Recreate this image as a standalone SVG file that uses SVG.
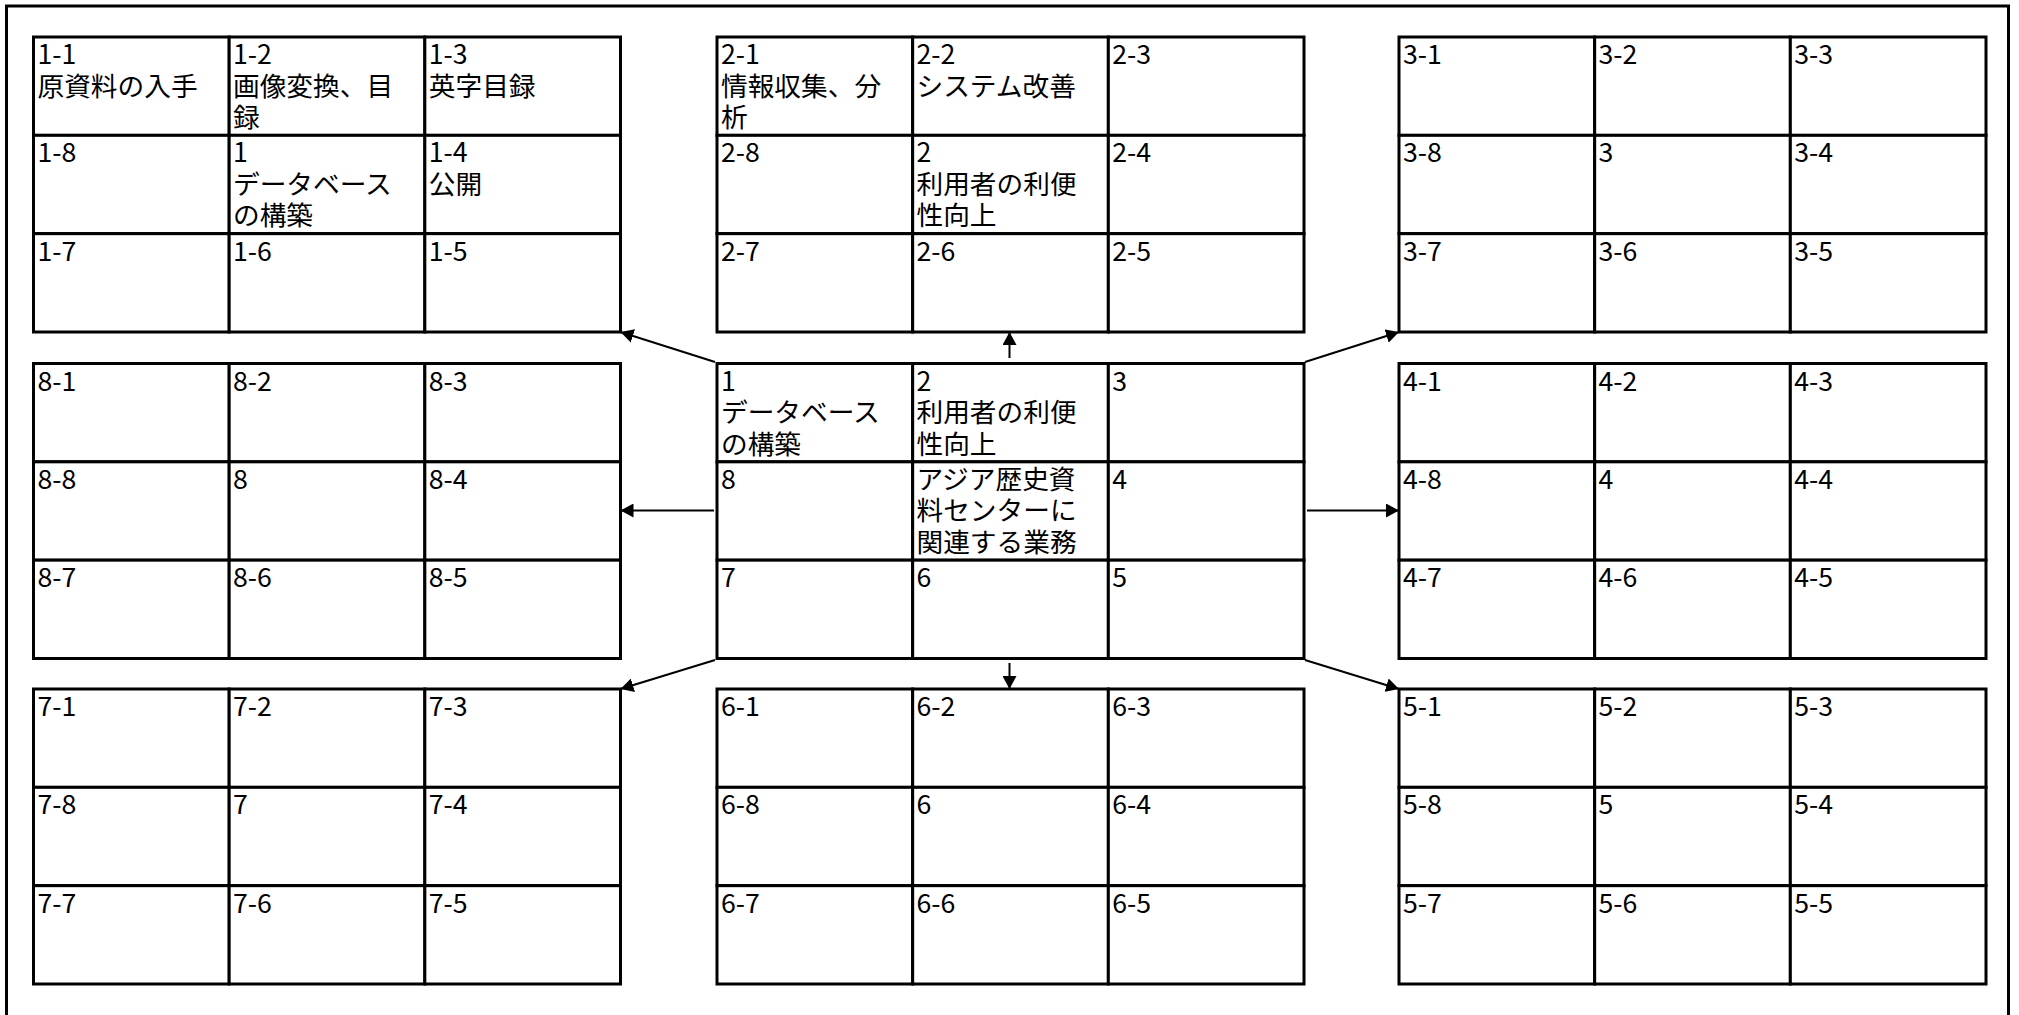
<svg xmlns="http://www.w3.org/2000/svg" xmlns:xlink="http://www.w3.org/1999/xlink" width="2019" height="1015" viewBox="0 0 2019 1015">
<style>
.cell{fill:#fff;stroke:#000;stroke-width:3}
.frame{fill:none;stroke:#000;stroke-width:3}
.t{font-family:"Noto Sans CJK JP","Noto Sans",sans-serif;font-size:26.7px;fill:#000}
.conn{stroke:#000;stroke-width:2;fill:none;marker-end:url(#ah)}
</style>
<defs>
<marker id="ah" markerUnits="userSpaceOnUse" markerWidth="14" markerHeight="14" refX="13" refY="7" orient="auto">
<path d="M0,0 L13,7 L0,14 Z" fill="#000"/>
</marker>
<g id="grid">
<rect class="cell" x="0" y="0" width="195.67" height="98.33"/>
<rect class="cell" x="195.67" y="0" width="195.67" height="98.33"/>
<rect class="cell" x="391.33" y="0" width="195.67" height="98.33"/>
<rect class="cell" x="0" y="98.33" width="195.67" height="98.33"/>
<rect class="cell" x="195.67" y="98.33" width="195.67" height="98.33"/>
<rect class="cell" x="391.33" y="98.33" width="195.67" height="98.33"/>
<rect class="cell" x="0" y="196.67" width="195.67" height="98.33"/>
<rect class="cell" x="195.67" y="196.67" width="195.67" height="98.33"/>
<rect class="cell" x="391.33" y="196.67" width="195.67" height="98.33"/>
</g>
</defs>
<rect x="0" y="0" width="2019" height="1015" fill="#fff"/>
<rect class="frame" x="6.5" y="6" width="2002" height="1100"/>

<g id="connectors">
<line class="conn" x1="715" y1="362" x2="620.5" y2="332"/>
<line class="conn" x1="1009.5" y1="358" x2="1009.5" y2="332"/>
<line class="conn" x1="1305" y1="362" x2="1399" y2="332"/>
<line class="conn" x1="714" y1="510.5" x2="620.5" y2="510.5"/>
<line class="conn" x1="1307" y1="510.5" x2="1399" y2="510.5"/>
<line class="conn" x1="715" y1="660" x2="620.5" y2="689"/>
<line class="conn" x1="1009.5" y1="663" x2="1009.5" y2="689"/>
<line class="conn" x1="1305" y1="660" x2="1399" y2="689"/>
</g>

<g id="grid-1" transform="translate(33.5,37)">
<use xlink:href="#grid"/>
<text class="t"><tspan x="4" y="27">1-1</tspan><tspan x="4" y="58.5">原資料の入手</tspan></text>
<text class="t"><tspan x="199.5" y="27">1-2</tspan><tspan x="199.5" y="58.5">画像変換、目</tspan><tspan x="199.5" y="90">録</tspan></text>
<text class="t"><tspan x="395.3" y="27">1-3</tspan><tspan x="395.3" y="58.5">英字目録</tspan></text>
<text class="t" x="4" y="125.3">1-8</text>
<text class="t"><tspan x="199.5" y="125.3">1</tspan><tspan x="199.5" y="156.8">データベース</tspan><tspan x="199.5" y="188.3">の構築</tspan></text>
<text class="t"><tspan x="395.3" y="125.3">1-4</tspan><tspan x="395.3" y="156.8">公開</tspan></text>
<text class="t" x="4" y="223.7">1-7</text>
<text class="t" x="199.5" y="223.7">1-6</text>
<text class="t" x="395.3" y="223.7">1-5</text>
</g>

<g id="grid-2" transform="translate(717,37)">
<use xlink:href="#grid"/>
<text class="t"><tspan x="4" y="27">2-1</tspan><tspan x="4" y="58.5">情報収集、分</tspan><tspan x="4" y="90">析</tspan></text>
<text class="t"><tspan x="199.5" y="27">2-2</tspan><tspan x="199.5" y="58.5">システム改善</tspan></text>
<text class="t" x="395.3" y="27">2-3</text>
<text class="t" x="4" y="125.3">2-8</text>
<text class="t"><tspan x="199.5" y="125.3">2</tspan><tspan x="199.5" y="156.8">利用者の利便</tspan><tspan x="199.5" y="188.3">性向上</tspan></text>
<text class="t" x="395.3" y="125.3">2-4</text>
<text class="t" x="4" y="223.7">2-7</text>
<text class="t" x="199.5" y="223.7">2-6</text>
<text class="t" x="395.3" y="223.7">2-5</text>
</g>

<g id="grid-3" transform="translate(1399,37)">
<use xlink:href="#grid"/>
<text class="t" x="4" y="27">3-1</text>
<text class="t" x="199.5" y="27">3-2</text>
<text class="t" x="395.3" y="27">3-3</text>
<text class="t" x="4" y="125.3">3-8</text>
<text class="t" x="199.5" y="125.3">3</text>
<text class="t" x="395.3" y="125.3">3-4</text>
<text class="t" x="4" y="223.7">3-7</text>
<text class="t" x="199.5" y="223.7">3-6</text>
<text class="t" x="395.3" y="223.7">3-5</text>
</g>

<g id="grid-8" transform="translate(33.5,363.5)">
<use xlink:href="#grid"/>
<text class="t" x="4" y="27">8-1</text>
<text class="t" x="199.5" y="27">8-2</text>
<text class="t" x="395.3" y="27">8-3</text>
<text class="t" x="4" y="125.3">8-8</text>
<text class="t" x="199.5" y="125.3">8</text>
<text class="t" x="395.3" y="125.3">8-4</text>
<text class="t" x="4" y="223.7">8-7</text>
<text class="t" x="199.5" y="223.7">8-6</text>
<text class="t" x="395.3" y="223.7">8-5</text>
</g>

<g id="grid-center" transform="translate(717,363.5)">
<use xlink:href="#grid"/>
<text class="t"><tspan x="4" y="27">1</tspan><tspan x="4" y="58.5">データベース</tspan><tspan x="4" y="90">の構築</tspan></text>
<text class="t"><tspan x="199.5" y="27">2</tspan><tspan x="199.5" y="58.5">利用者の利便</tspan><tspan x="199.5" y="90">性向上</tspan></text>
<text class="t" x="395.3" y="27">3</text>
<text class="t" x="4" y="125.3">8</text>
<text class="t"><tspan x="199.5" y="125.3">アジア歴史資</tspan><tspan x="199.5" y="156.8">料センターに</tspan><tspan x="199.5" y="188.3">関連する業務</tspan></text>
<text class="t" x="395.3" y="125.3">4</text>
<text class="t" x="4" y="223.7">7</text>
<text class="t" x="199.5" y="223.7">6</text>
<text class="t" x="395.3" y="223.7">5</text>
</g>

<g id="grid-4" transform="translate(1399,363.5)">
<use xlink:href="#grid"/>
<text class="t" x="4" y="27">4-1</text>
<text class="t" x="199.5" y="27">4-2</text>
<text class="t" x="395.3" y="27">4-3</text>
<text class="t" x="4" y="125.3">4-8</text>
<text class="t" x="199.5" y="125.3">4</text>
<text class="t" x="395.3" y="125.3">4-4</text>
<text class="t" x="4" y="223.7">4-7</text>
<text class="t" x="199.5" y="223.7">4-6</text>
<text class="t" x="395.3" y="223.7">4-5</text>
</g>

<g id="grid-7" transform="translate(33.5,689)">
<use xlink:href="#grid"/>
<text class="t" x="4" y="27">7-1</text>
<text class="t" x="199.5" y="27">7-2</text>
<text class="t" x="395.3" y="27">7-3</text>
<text class="t" x="4" y="125.3">7-8</text>
<text class="t" x="199.5" y="125.3">7</text>
<text class="t" x="395.3" y="125.3">7-4</text>
<text class="t" x="4" y="223.7">7-7</text>
<text class="t" x="199.5" y="223.7">7-6</text>
<text class="t" x="395.3" y="223.7">7-5</text>
</g>

<g id="grid-6" transform="translate(717,689)">
<use xlink:href="#grid"/>
<text class="t" x="4" y="27">6-1</text>
<text class="t" x="199.5" y="27">6-2</text>
<text class="t" x="395.3" y="27">6-3</text>
<text class="t" x="4" y="125.3">6-8</text>
<text class="t" x="199.5" y="125.3">6</text>
<text class="t" x="395.3" y="125.3">6-4</text>
<text class="t" x="4" y="223.7">6-7</text>
<text class="t" x="199.5" y="223.7">6-6</text>
<text class="t" x="395.3" y="223.7">6-5</text>
</g>

<g id="grid-5" transform="translate(1399,689)">
<use xlink:href="#grid"/>
<text class="t" x="4" y="27">5-1</text>
<text class="t" x="199.5" y="27">5-2</text>
<text class="t" x="395.3" y="27">5-3</text>
<text class="t" x="4" y="125.3">5-8</text>
<text class="t" x="199.5" y="125.3">5</text>
<text class="t" x="395.3" y="125.3">5-4</text>
<text class="t" x="4" y="223.7">5-7</text>
<text class="t" x="199.5" y="223.7">5-6</text>
<text class="t" x="395.3" y="223.7">5-5</text>
</g>
</svg>
